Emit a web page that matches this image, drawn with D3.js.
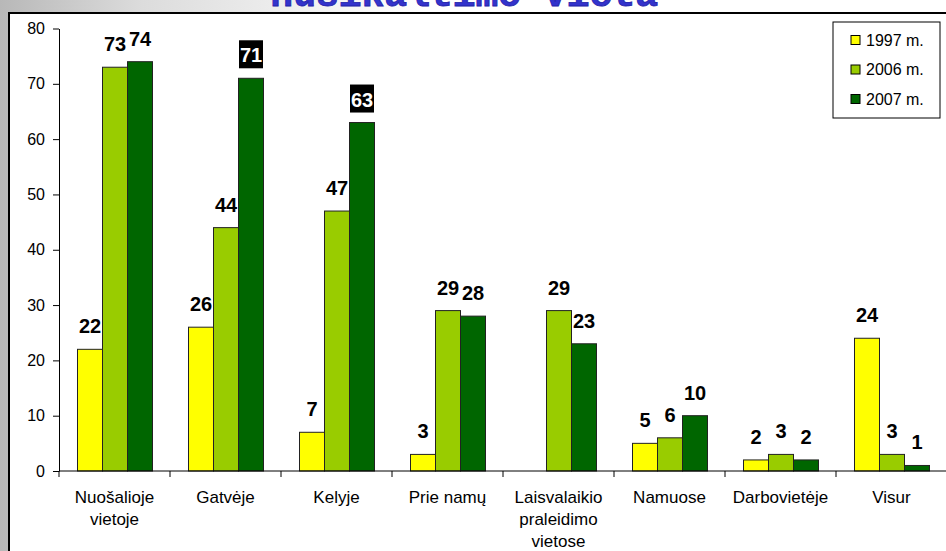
<!DOCTYPE html>
<html lang="lt">
  <head>
    <meta charset="UTF-8" />
    <script src="https://d3js.org/d3.v7.min.js"></script>
    <title>Nusikaltimo vieta</title>
    <style>
      body { margin: 0; overflow: hidden; }
      text { font-family: Arial, "Liberation Sans", sans-serif; }
    </style>
  </head>
  <body>
    <svg id="chart" width="946" height="551"></svg>
    <script>
      // Data
      var categories = ['Nuošalioje vietoje', 'Gatvėje', 'Kelyje', 'Prie namų',
        'Laisvalaikio praleidimo vietose', 'Namuose', 'Darbovietėje', 'Visur'];
      var series = ['1997 m.', '2006 m.', '2007 m.'];
      var values1997 = [22, 26, 7, 3, null, 5, 2, 24];
      var values2006 = [73, 44, 47, 29, 29, 6, 3, 3];
      var values2007 = [74, 71, 63, 28, 23, 10, 2, 1];
      var yTicks = [0, 10, 20, 30, 40, 50, 60, 70, 80];
      // labels drawn white on black
      var highlighted = [['Gatvėje', '2007 m.'], ['Kelyje', '2007 m.']];
      // category labels split in lines
      var catLines = {
        'Nuošalioje vietoje': ['Nuošalioje', 'vietoje'],
        'Laisvalaikio praleidimo vietose': ['Laisvalaikio', 'praleidimo', 'vietose']
      };

      var colors = d3.scaleOrdinal().domain(series).range(['#ffff00', '#99cc00', '#006600']);
      var allValues = [values1997, values2006, values2007];

      var svg = d3.select('#chart');

      // background
      var defs = svg.append('defs');
      var grad = defs.append('linearGradient').attr('id', 'bg').attr('x1', 0).attr('x2', 1);
      grad.append('stop').attr('offset', 0).attr('stop-color', '#b8b8b8');
      grad.append('stop').attr('offset', 0.15).attr('stop-color', '#dcdcdc');
      grad.append('stop').attr('offset', 0.45).attr('stop-color', '#ffffff');
      svg.append('rect').attr('width', 946).attr('height', 551).attr('fill', 'url(#bg)');

      // title, mostly hidden behind the chart frame
      svg.append('text')
        .attr('x', 658).attr('y', 6)
        .attr('text-anchor', 'end')
        .style('font-family', '"Liberation Mono", "DejaVu Sans Mono", monospace')
        .style('font-weight', 'bold')
        .style('font-size', '38px')
        .attr('fill', '#3333cc')
        .attr('stroke', '#2222aa')
        .attr('stroke-width', 0.8)
        .text('nusikaltimo vieta');

      // chart frame
      svg.append('rect')
        .attr('x', 9).attr('y', 13)
        .attr('width', 960).attr('height', 560)
        .attr('fill', '#fff')
        .attr('stroke', '#000')
        .attr('stroke-width', 2);

      // scales
      var x = d3.scaleBand().domain(categories).range([59, 947]);
      var xSub = d3.scaleBand().domain(series).range([18.5, 93.5]);
      var y = d3.scaleLinear().domain([0, 80]).range([471, 28.5]);

      // bars
      var rows = [];
      categories.forEach(function(c, i) {
        series.forEach(function(s, j) {
          rows.push({ cat: c, ser: s, value: allValues[j][i] });
        });
      });
      var shown = rows.filter(function(d) { return d.value != null && d.value > 0; });

      svg.append('g')
        .selectAll('rect')
        .data(shown)
        .enter()
        .append('rect')
        .attr('x', function(d) { return x(d.cat) + xSub(d.ser); })
        .attr('y', function(d) { return y(d.value); })
        .attr('width', xSub.bandwidth())
        .attr('height', function(d) { return y(0) - y(d.value); })
        .attr('fill', function(d) { return colors(d.ser); })
        .attr('stroke', '#222')
        .attr('stroke-width', 1);

      // y axis
      var yAxis = svg.append('g')
        .attr('transform', 'translate(59,0)')
        .call(d3.axisLeft(y).tickValues(yTicks).tickSize(6).tickSizeOuter(0).tickPadding(8));
      yAxis.selectAll('text').style('font-size', '16px').attr('fill', '#000');
      yAxis.selectAll('line, path').attr('stroke', '#000');

      // x axis
      var xAxis = svg.append('g');
      xAxis.append('line')
        .attr('x1', 59).attr('x2', 947)
        .attr('y1', y(0)).attr('y2', y(0))
        .attr('stroke', '#000');
      xAxis.selectAll('line.tick')
        .data(categories.concat(['end']))
        .enter()
        .append('line')
        .attr('class', 'tick')
        .attr('x1', function(d, i) { return 59 + i * x.step(); })
        .attr('x2', function(d, i) { return 59 + i * x.step(); })
        .attr('y1', y(0)).attr('y2', y(0) + 6)
        .attr('stroke', '#000');

      var catText = svg.append('g')
        .selectAll('text')
        .data(categories)
        .enter()
        .append('text')
        .attr('text-anchor', 'middle')
        .style('font-size', '17px')
        .attr('fill', '#000');
      catText.each(function(d) {
        var lines = catLines[d] || [d];
        var t = d3.select(this);
        lines.forEach(function(l, k) {
          t.append('tspan')
            .attr('x', x(d) + x.bandwidth() / 2)
            .attr('y', 503 + k * 22)
            .text(l);
        });
      });

      // value labels
      function isHi(d) {
        return highlighted.some(function(h) { return h[0] === d.cat && h[1] === d.ser; });
      }
      var lbl = svg.append('g');
      shown.forEach(function(d) {
        var cx = x(d.cat) + xSub(d.ser) + xSub.bandwidth() / 2;
        if (isHi(d)) {
          var top = y(d.value) - 38;
          lbl.append('rect')
            .attr('x', cx - 12).attr('y', top)
            .attr('width', 24).attr('height', 28)
            .attr('fill', '#000');
          lbl.append('text')
            .attr('x', cx).attr('y', top + 22)
            .attr('text-anchor', 'middle')
            .style('font-size', '20px').style('font-weight', 'bold')
            .attr('fill', '#fff')
            .text(d.value);
        } else {
          lbl.append('text')
            .attr('x', cx).attr('y', y(d.value) - 16)
            .attr('text-anchor', 'middle')
            .style('font-size', '20px').style('font-weight', 'bold')
            .attr('fill', '#000')
            .text(d.value);
        }
      });

      // legend
      var legend = svg.append('g');
      legend.append('rect')
        .attr('x', 833).attr('y', 22)
        .attr('width', 107).attr('height', 96)
        .attr('fill', '#fff').attr('stroke', '#000');
      var item = legend.selectAll('g.item')
        .data(series)
        .enter()
        .append('g')
        .attr('transform', function(d, i) { return 'translate(851,' + (40 + i * 29.5) + ')'; });
      item.append('rect')
        .attr('x', 0).attr('y', -4.5)
        .attr('width', 9).attr('height', 9)
        .attr('fill', function(d) { return colors(d); })
        .attr('stroke', '#000');
      item.append('text')
        .attr('x', 15).attr('y', 5.5)
        .style('font-size', '16px')
        .attr('fill', '#000')
        .text(function(d) { return d; });
    </script>
  </body>
</html>
